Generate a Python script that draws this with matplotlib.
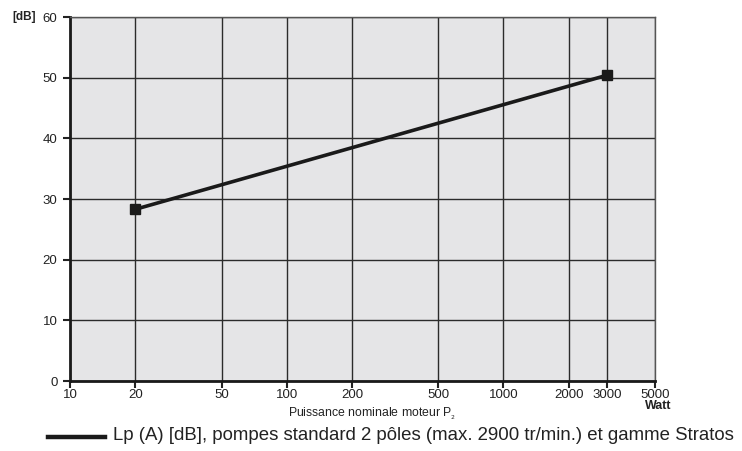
import matplotlib
matplotlib.use("Agg")
import matplotlib.pyplot as plt
from matplotlib.lines import Line2D

# data
power_w = [20, 3000]
lp_db = [28.3, 50.4]
x_ticks = [10, 20, 50, 100, 200, 500, 1000, 2000, 3000, 5000]
y_ticks = [0, 10, 20, 30, 40, 50, 60]

plt.rcParams['font.family'] = ['Liberation Sans', 'DejaVu Sans']

fig = plt.figure(figsize=(7.42, 4.51), dpi=100)
ax = fig.add_axes([70 / 742, 1 - 381 / 451, 585 / 742, 364 / 451])
ax.set_facecolor('#e5e5e7')

ax.set_xscale('log')
ax.set_xlim(10, 5000)
ax.set_ylim(0, 60)
ax.set_xticks(x_ticks)
ax.set_xticklabels([str(t) for t in x_ticks])
ax.minorticks_off()
ax.set_yticks(y_ticks)
ax.tick_params(axis='both', labelsize=9.5, colors='#222222', length=5, width=1.5)
ax.tick_params(axis='x', pad=1)
ax.tick_params(axis='y', pad=4)

ax.grid(True, color='#2b2b2b', linewidth=1.0)
ax.set_axisbelow(True)
for s in ['top', 'right']:
    ax.spines[s].set_color('#555555')
    ax.spines[s].set_linewidth(1.0)
for s in ['left', 'bottom']:
    ax.spines[s].set_color('#1a1a1a')
    ax.spines[s].set_linewidth(2.0)

ax.plot(power_w, lp_db, color='#1a1a1a', linewidth=2.6, marker='s',
        markersize=7.5, clip_on=False)

# axis texts
fig.text(372 / 742, 1 - 414 / 451, 'Puissance nominale moteur P$_{_2}$', fontsize=8.8,
         ha='center', va='center', color='#222222')
fig.text(24 / 742, 1 - 17 / 451, '[dB]', fontsize=8.5, fontweight='bold',
         ha='center', va='center', color='#222222')
fig.text(658 / 742, 1 - 406 / 451, 'Watt', fontsize=9, fontweight='bold',
         ha='center', va='center', color='#222222')

# legend line under the chart
fig.add_artist(Line2D([48 / 742, 105 / 742], [1 - 437 / 451, 1 - 437 / 451],
                      color='#1a1a1a', linewidth=3.2))
fig.text(113 / 742, 1 - 436 / 451,
         'Lp (A) [dB], pompes standard 2 pôles (max. 2900 tr/min.) et gamme Stratos',
         fontsize=13.4, ha='left', va='center', color='#222222')

fig.savefig('out.png', dpi=100)
